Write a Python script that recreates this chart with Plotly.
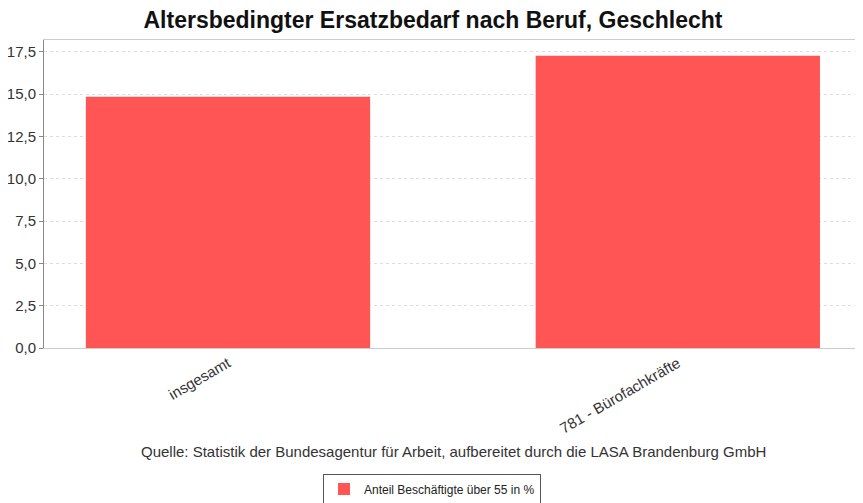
import plotly.graph_objects as go

categories = ["insgesamt", "781 - Bürofachkräfte"]
values = [14.85, 17.27]
series_name = "Anteil Beschäftigte über 55 in %"
y_ticks = [0, 2.5, 5, 7.5, 10, 12.5, 15, 17.5]

fig = go.Figure()
fig.add_trace(go.Bar(
    x=categories, y=values, name=series_name,
    marker=dict(color="#FF5555", line=dict(width=0)),
    width=0.632, showlegend=True,
))

# page body adds an 8px offset, so the figure is sized to fill the rest of the window
W, H = 855, 495
fig.update_layout(
    width=W, height=H,
    separators=",.",
    paper_bgcolor="white", plot_bgcolor="white",
    margin=dict(l=36, r=3, t=32, b=155),
    font=dict(family="Liberation Sans, Arial, sans-serif", color="#333333"),
    title=dict(text="<b>Altersbedingter Ersatzbedarf nach Beruf, Geschlecht</b>",
               x=(433 - 8) / W, xanchor="center", y=1 - (20 - 8) / H, yanchor="middle",
               font=dict(size=23, color="#111111")),
    xaxis=dict(type="category", range=[-0.409, 1.405], tickangle=-30, automargin=False,
               showgrid=False, showline=True, linecolor="#cccccc", mirror=True,
               ticks="", tickfont=dict(size=15, color="#333333")),
    yaxis=dict(range=[0, 18.2], tickvals=y_ticks, tickformat=".1f", automargin=False,
               showgrid=True, gridcolor="#dddddd", griddash="dot", gridwidth=1,
               showline=True, linecolor="#888888", linewidth=1,
               ticks="outside", ticklen=4, tickcolor="#888888",
               tickfont=dict(size=15, color="#333333"), zeroline=False),
    showlegend=True,
    legend=dict(orientation="h", x=(432 - 8) / W, xanchor="center", xref="container",
                y=1 - (489 - 8) / H, yanchor="middle", yref="container",
                bordercolor="#555555", borderwidth=1, font=dict(size=12, color="#222222"),
                itemwidth=30, tracegroupgap=0),
    annotations=[dict(text="Quelle: Statistik der Bundesagentur für Arbeit, aufbereitet durch die LASA Brandenburg GmbH",
                      xref="paper", yref="paper", x=0.502, y=-0.337, xanchor="center", yanchor="middle",
                      showarrow=False, font=dict(size=15, color="#333333"))],
)

fig.write_html("out.html")
